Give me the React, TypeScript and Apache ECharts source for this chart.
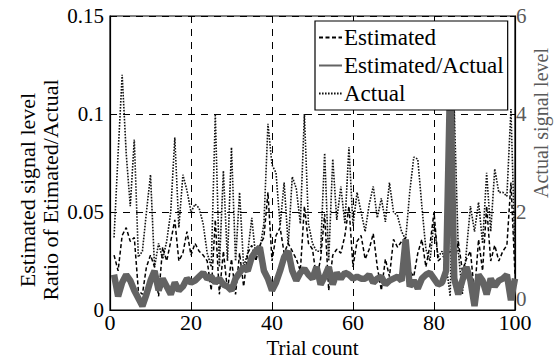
import React, { useEffect, useRef } from "react";
import * as echarts from "echarts";

const trials: number[] = Array.from({ length: 100 }, (_, i) => i + 1);

const estimated: number[] = [
  0.028, 0.02, 0.038, 0.042, 0.035, 0.037, 0.01, 0.008, 0.022, 0.028,
  0.022, 0.007, 0.032, 0.025, 0.035, 0.046, 0.025, 0.029, 0.04, 0.028,
  0.034, 0.03, 0.028, 0.025, 0.01, 0.046, 0.008, 0.03, 0.01, 0.026,
  0.008, 0.029, 0.012, 0.029, 0.033, 0.025, 0.033, 0.037, 0.06, 0.025,
  0.038, 0.042, 0.029, 0.034, 0.03, 0.026, 0.02, 0.053, 0.034, 0.031,
  0.016, 0.026, 0.049, 0.01, 0.028, 0.031, 0.029, 0.038, 0.053, 0.022,
  0.035, 0.038, 0.026, 0.031, 0.039, 0.022, 0.01, 0.026, 0.017, 0.036,
  0.032, 0.035, 0.037, 0.02, 0.017, 0.029, 0.036, 0.022, 0.033, 0.05,
  0.025, 0.027, 0.028, 0.03, 0.022, 0.035, 0.02, 0.026, 0.03, 0.008,
  0.036, 0.02, 0.053, 0.025, 0.033, 0.025, 0.03, 0.033, 0.065, 0.018,
];

const ratio: number[] = [
  0.018, 0.007, 0.014, 0.018, 0.015, 0.01, 0.006, 0.002, 0.008, 0.015,
  0.02, 0.01, 0.016, 0.012, 0.008, 0.014, 0.01, 0.012, 0.016, 0.014,
  0.015, 0.017, 0.019, 0.016, 0.017, 0.014, 0.016, 0.013, 0.012, 0.01,
  0.016, 0.019, 0.022, 0.02, 0.027, 0.03, 0.032, 0.02, 0.016, 0.01,
  0.014, 0.02, 0.027, 0.03, 0.02, 0.015, 0.019, 0.021, 0.018, 0.016,
  0.022, 0.013, 0.017, 0.022, 0.013, 0.019, 0.016, 0.019, 0.018, 0.016,
  0.017, 0.016, 0.016, 0.018, 0.014, 0.016, 0.017, 0.013, 0.015, 0.016,
  0.017, 0.015, 0.036, 0.012, 0.015, 0.011, 0.016, 0.018, 0.019, 0.016,
  0.013, 0.014, 0.02, 0.12, 0.016, 0.008, 0.015, 0.022, 0.015, 0.002,
  0.018, 0.015, 0.008, 0.016, 0.012, 0.015, 0.016, 0.018, 0.005, 0.016,
];

const actual: number[] = [
  1.48, 3.2, 4.8, 3.2, 2.12, 3.48, 1.08, 1.2, 2.0, 2.76,
  0.88, 1.36, 1.04, 1.4, 2.0, 3.52, 1.68, 2.76, 2.44, 2.0,
  2.16, 2.08, 1.76, 1.16, 0.88, 4.0, 0.88, 2.84, 1.0, 3.32,
  1.0, 2.4, 0.88, 1.16, 1.88, 1.08, 1.24, 1.76, 3.8, 2.96,
  2.8, 1.72, 2.6, 1.32, 2.72, 2.48, 1.76, 4.0, 1.76, 1.36,
  1.2, 1.2, 3.2, 1.0, 3.08, 1.84, 2.52, 1.76, 3.32, 1.72,
  2.4, 2.0, 1.6, 2.16, 2.52, 1.88, 2.28, 1.8, 2.6, 2.0,
  1.92, 1.6, 1.44, 2.4, 3.12, 3.08, 2.12, 1.24, 1.0, 1.8,
  1.08, 1.2, 0.92, 0.28, 4.1, 1.2, 0.32, 1.2, 2.12, 1.6,
  2.2, 1.36, 2.8, 1.6, 2.88, 2.4, 2.4, 2.32, 4.1, 1.12,
];

const seriesNames = ["Estimated", "Estimated/Actual", "Actual"];
const leftTitle = "Estimated signal level\nRatio of Etimated/Actual";
const rightTitle = "Actual signal level";
const xTitle = "Trial count";

const FONT = "Liberation Serif, Times New Roman, serif";
const GRAY = "#5a5a5a";

export default function App() {
  const ref = useRef<HTMLDivElement>(null);
  useEffect(() => {
    if (!ref.current) return;
    const chart = echarts.init(ref.current, undefined, { renderer: "svg" });
    const pairs = (arr: number[]) => arr.map((v, i) => [trials[i], v]);
    chart.setOption({
      animation: false,
      backgroundColor: "#ffffff",
      textStyle: { fontFamily: FONT },
      grid: {
        left: 110,
        right: 40,
        top: 16,
        bottom: 48,
        containLabel: false,
        outerBoundsMode: "none",
        show: true,
        borderColor: "#000",
        borderWidth: 1.2,
        backgroundColor: "transparent",
      },
      graphic: [
        {
          type: "text",
          x: 39,
          y: 190,
          rotation: Math.PI / 2,
          style: {
            text: leftTitle,
            fontFamily: FONT,
            fontSize: 22,
            lineHeight: 23,
            fill: "#000",
            align: "center",
            verticalAlign: "middle",
          },
        },
        {
          type: "text",
          x: 541,
          y: 123,
          rotation: Math.PI / 2,
          style: {
            text: rightTitle,
            fontFamily: FONT,
            fontSize: 20,
            fill: GRAY,
            align: "center",
            verticalAlign: "middle",
          },
        },
      ],
      legend: {
        data: seriesNames,
        orient: "vertical",
        left: 315,
        top: 21,
        padding: [4, 4, 4, 3],
        itemWidth: 23,
        itemHeight: 14,
        itemGap: 3,
        backgroundColor: "#fff",
        borderColor: "#000",
        borderWidth: 1.2,
        borderRadius: 0,
        itemStyle: { opacity: 0 },
        textStyle: { fontFamily: FONT, fontSize: 23, color: "#000", lineHeight: 25, padding: [0, 0, 0, -3] },
        z: 10,
      },
      xAxis: {
        type: "value",
        min: 0,
        max: 100,
        interval: 20,
        name: xTitle,
        nameLocation: "middle",
        nameGap: 18,
        nameTextStyle: { fontFamily: FONT, fontSize: 21, color: "#000", lineHeight: 21 },
        axisLine: { show: true, lineStyle: { color: "#000", width: 1.2 } },
        axisTick: { show: true, inside: true, length: 5, lineStyle: { color: "#000" } },
        axisLabel: { fontFamily: FONT, fontSize: 22, color: "#000", margin: 1 },
        splitLine: { show: true, lineStyle: { color: "#000", type: [7, 6], width: 1 } },
      },
      yAxis: [
        {
          type: "value",
          min: 0,
          max: 0.15,
          interval: 0.05,
          axisLine: { show: true, lineStyle: { color: "#000", width: 1.2 } },
          axisTick: { show: true, inside: true, length: 5, lineStyle: { color: "#000" } },
          axisLabel: { fontFamily: FONT, fontSize: 21, color: "#000", margin: 6 },
          splitLine: { show: true, lineStyle: { color: "#000", type: [7, 6], width: 1 } },
        },
        {
          type: "value",
          min: 0,
          max: 6,
          interval: 2,
          position: "right",
          axisLine: { show: true, lineStyle: { color: "#000", width: 1.2 } },
          axisTick: { show: true, inside: true, length: 5, lineStyle: { color: "#000" } },
          axisLabel: {
            fontFamily: FONT,
            fontSize: 21,
            color: GRAY,
            margin: 1,
            formatter: (v: number) => (v === 0 ? "{z|0}" : String(v)),
            rich: { z: { fontFamily: FONT, fontSize: 21, color: GRAY, padding: [0, 0, 22, 0] } },
          },
          splitLine: { show: false },
        },
      ],
      series: [
        {
          name: "Actual",
          type: "line",
          yAxisIndex: 1,
          data: pairs(actual),
          symbol: "none",
          lineStyle: { color: "#111", width: 1.6, type: [1.6, 1.4] },
          itemStyle: { color: "#111" },
          z: 2,
        },
        {
          name: "Estimated",
          type: "line",
          yAxisIndex: 0,
          data: pairs(estimated),
          symbol: "none",
          lineStyle: { color: "#000", width: 1.5, type: [4, 2.5] },
          itemStyle: { color: "#000" },
          z: 3,
        },
        {
          name: "Estimated/Actual",
          type: "line",
          yAxisIndex: 0,
          data: pairs(ratio),
          symbol: "none",
          lineStyle: { color: "#636363", width: 6.5 },
          itemStyle: { color: "#636363" },
          z: 4,
        },
      ],
    });
    return () => chart.dispose();
  }, []);
  return (
    <div
      ref={ref}
      style={{ position: "absolute", left: 0, top: 0, width: 555, height: 358 }}
    />
  );
}
